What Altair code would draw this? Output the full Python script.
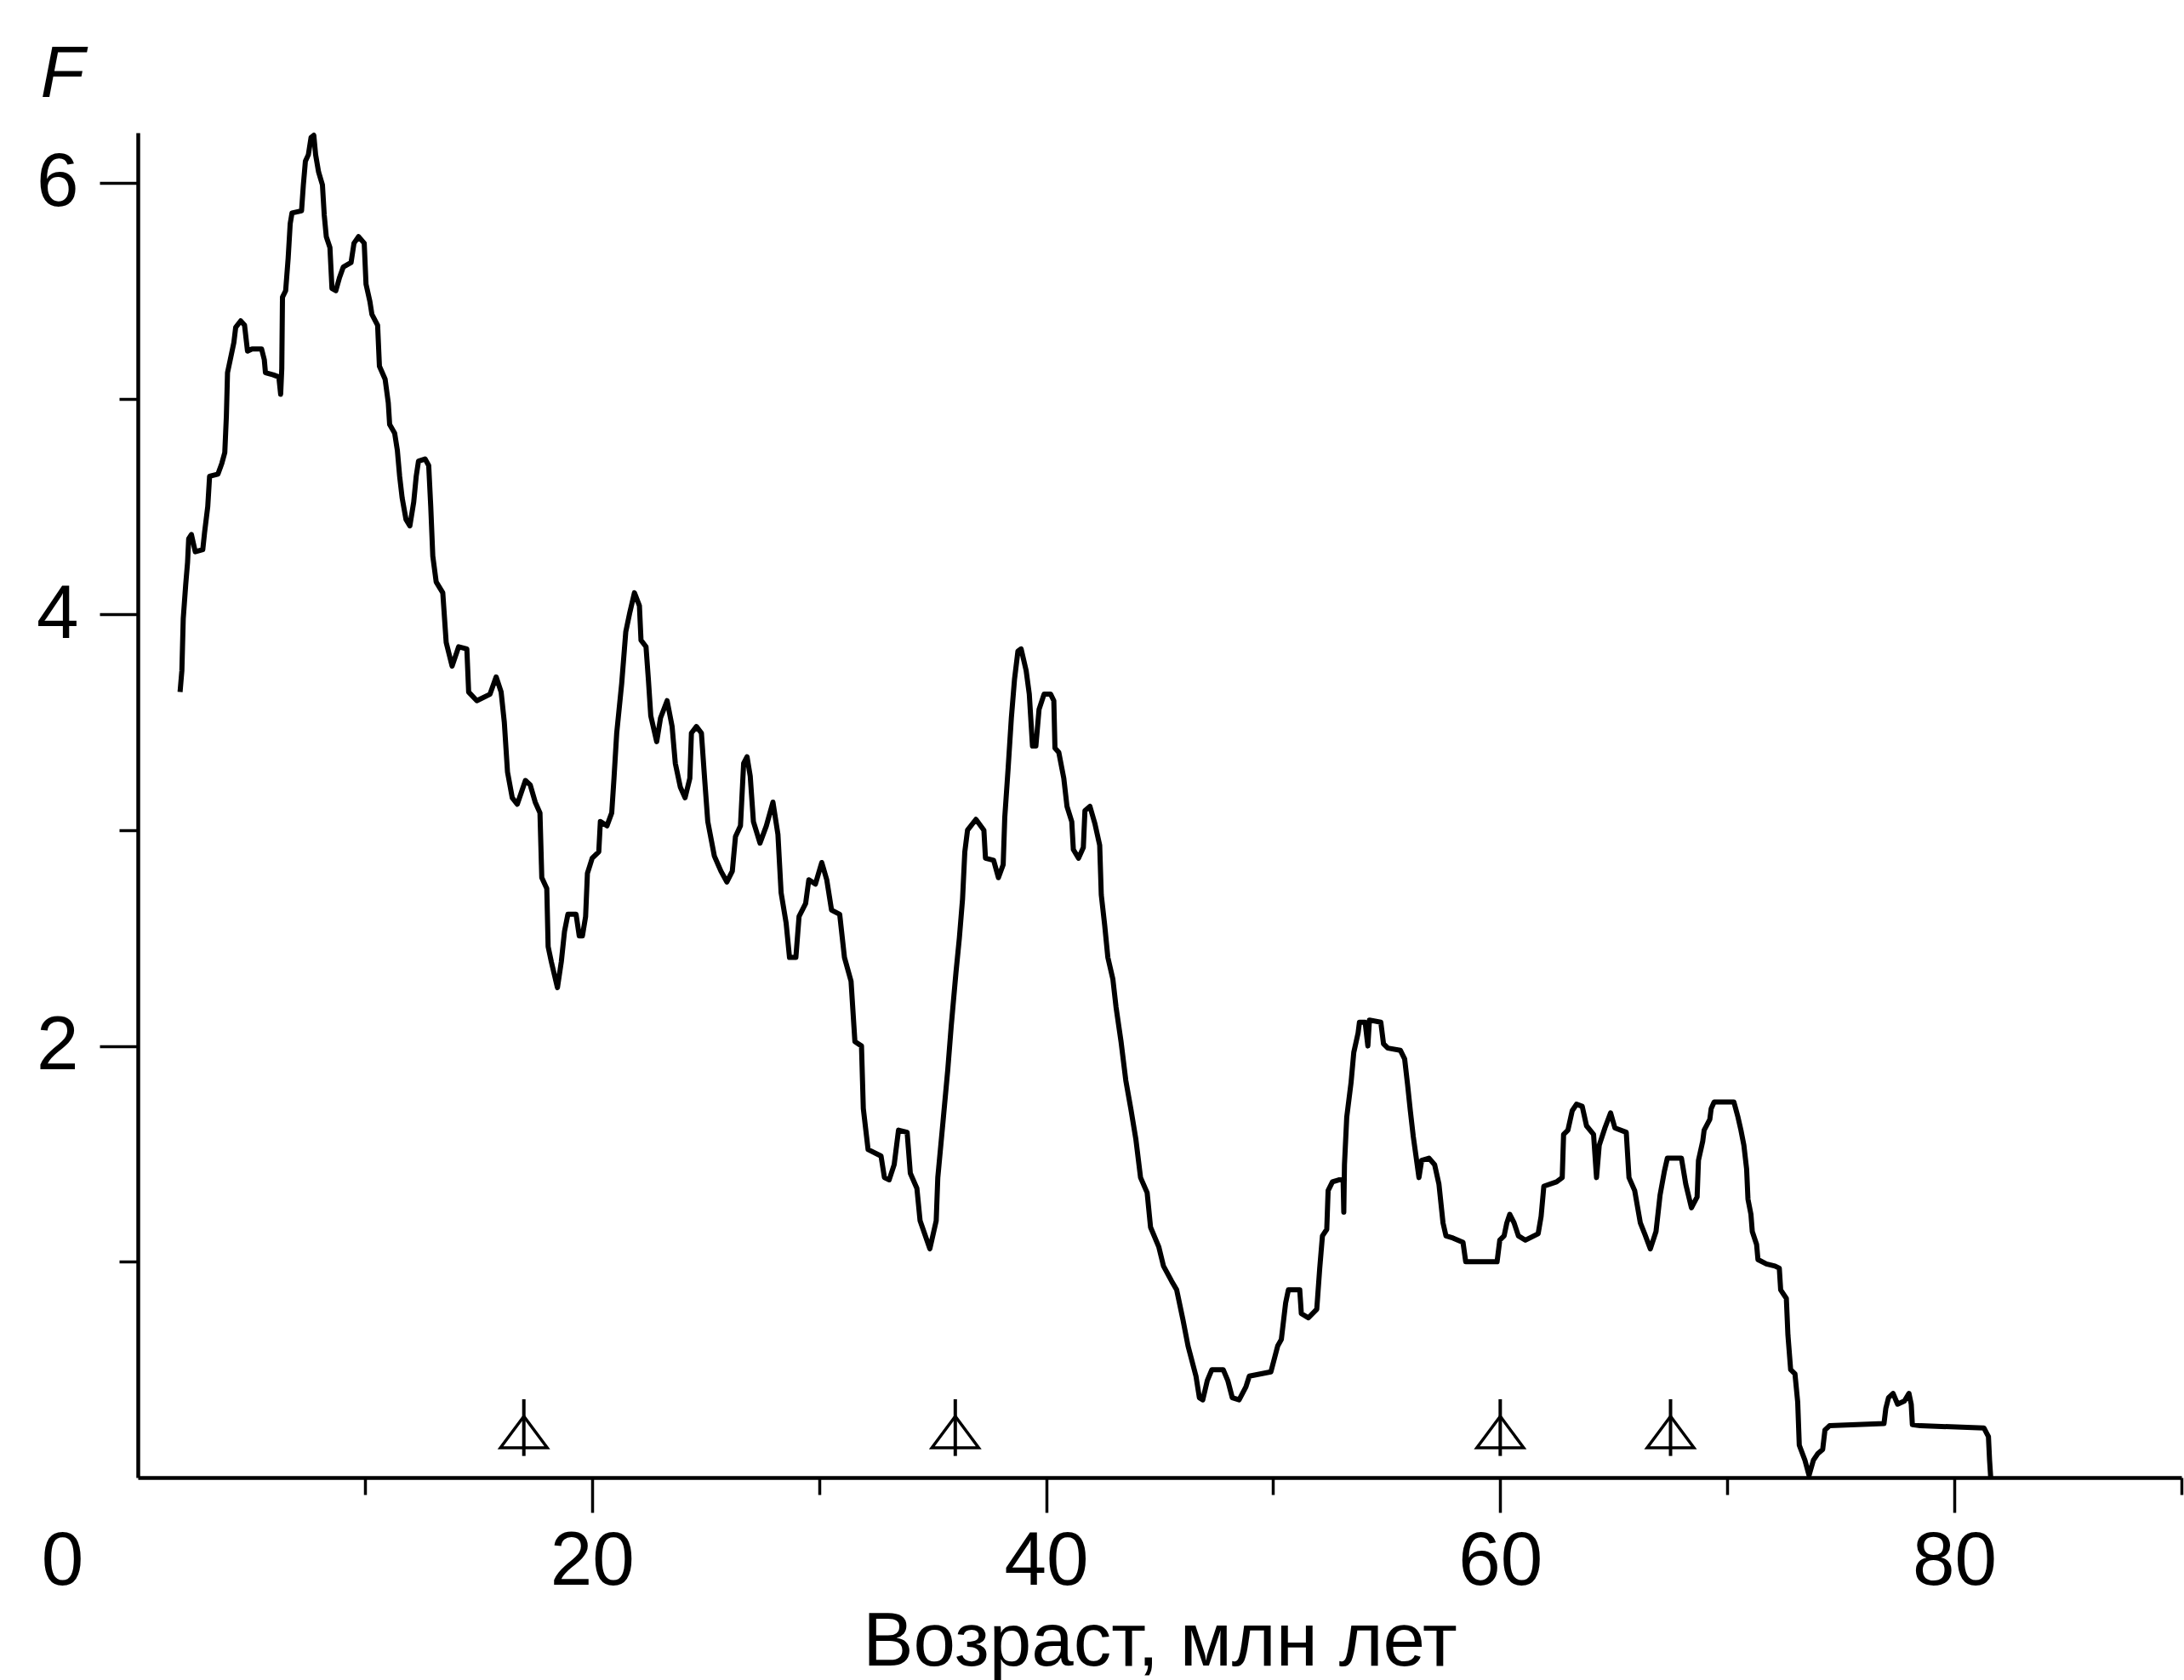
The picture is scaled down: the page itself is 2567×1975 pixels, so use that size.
import altair as alt
import pandas as pd

# Age, Ma (x) and F (y)
age = [
    1.86, 1.94, 2.00, 2.11, 2.19, 2.24, 2.36, 2.53, 2.86, 2.94, 3.08, 3.16, 3.53, 3.70, 3.83, 3.90,
    3.95, 4.11, 4.23, 4.31, 4.53, 4.70, 4.83, 5.03, 5.45, 5.57, 5.62, 5.96, 6.21, 6.29, 6.34, 6.37,
    6.51, 6.62, 6.71, 6.79, 7.21, 7.29, 7.38, 7.51, 7.63, 7.75, 7.83, 7.96, 8.13, 8.21, 8.30, 8.46,
    8.55, 8.72, 8.88, 9.05, 9.39, 9.52, 9.72, 9.97, 10.05, 10.22, 10.31, 10.56, 10.64, 10.89, 11.03,
    11.09, 11.31, 11.43, 11.53, 11.64, 11.81, 11.98, 12.15, 12.26, 12.36, 12.65, 12.81, 12.90, 12.99,
    13.14, 13.43, 13.58, 13.84, 14.13, 14.49, 14.57, 14.93, 15.51, 15.78, 16.00, 16.14, 16.28, 16.49,
    16.71, 17.07, 17.28, 17.50, 17.71, 17.79, 18.01, 18.07, 18.21, 18.48, 18.65, 18.79, 18.94, 19.30,
    19.44, 19.58, 19.72, 19.80, 20.01, 20.30, 20.37, 20.66, 20.87, 20.97, 21.09, 21.31, 21.49, 21.67,
    21.87, 22.09, 22.16, 22.38, 22.49, 22.59, 22.85, 23.02, 23.31, 23.53, 23.67, 23.89, 24.10, 24.31,
    24.38, 24.60, 24.82, 24.96, 25.10, 25.39, 25.68, 25.94, 26.18, 26.32, 26.54, 26.68, 26.83, 26.97,
    27.11, 27.40, 27.68, 27.97, 28.19, 28.33, 28.55, 28.70, 28.98, 29.12, 29.41, 29.55, 29.84, 30.12,
    30.34, 30.55, 30.91, 31.12, 31.41, 31.58, 31.87, 31.95, 32.16, 32.73, 32.88, 33.09, 33.31, 33.50,
    33.88, 34.02, 34.31, 34.45, 34.88, 35.16, 35.23, 35.46, 35.67, 35.82, 36.03, 36.18, 36.32, 36.42,
    36.54, 36.91, 37.26, 37.33, 37.69, 37.90, 38.11, 38.18, 38.33, 38.47, 38.61, 38.76, 38.90, 39.12,
    39.26, 39.40, 39.55, 39.69, 39.91, 40.20, 40.34, 40.39, 40.56, 40.78, 40.92, 41.13, 41.20, 41.43,
    41.64, 41.71, 41.93, 42.15, 42.36, 42.43, 42.58, 42.72, 42.94, 43.08, 43.30, 43.51, 43.73, 43.95,
    44.16, 44.45, 44.60, 44.96, 45.17, 45.53, 45.75, 46.03, 46.25, 46.60, 46.75, 46.90, 47.10, 47.30,
    47.80, 48.00, 48.20, 48.50, 48.80, 48.95, 49.90, 50.20, 50.36, 50.55, 50.67, 51.17, 51.24, 51.55,
    51.92, 52.05, 52.17, 52.36, 52.42, 52.61, 52.92, 53.08, 53.11, 53.14, 53.24, 53.43, 53.55, 53.74,
    53.80, 54.05, 54.17, 54.24, 54.74, 54.86, 55.05, 55.60, 55.79, 55.92, 56.04, 56.17, 56.29, 56.42,
    56.54, 56.86, 57.11, 57.30, 57.48, 57.61, 57.92, 58.36, 58.48, 58.86, 59.61, 59.86, 59.98, 60.17,
    60.29, 60.42, 60.61, 60.80, 61.11, 61.67, 61.80, 61.92, 62.48, 62.73, 62.79, 62.98, 63.17, 63.36,
    63.61, 63.80, 64.11, 64.24, 64.36, 64.61, 64.86, 65.05, 65.55, 65.67, 65.92, 66.17, 66.36, 66.61,
    66.86, 67.04, 67.23, 67.36, 67.98, 68.17, 68.42, 68.67, 68.73, 68.92, 68.98, 69.23, 69.29, 69.42,
    70.29, 70.47, 70.60, 70.73, 70.85, 70.91, 71.04, 71.10, 71.29, 71.35, 71.72, 72.10, 72.29, 72.35,
    72.60, 72.67, 72.79, 72.98, 73.10, 73.17, 73.42, 73.60, 73.79, 73.98, 74.20, 74.30, 74.50, 76.90,
    76.98, 77.10, 77.30, 77.50, 77.80, 78.00, 78.10, 78.15, 78.50, 81.30, 81.50, 81.55, 81.60,
]
F = [
    3.64, 3.74, 3.98, 4.14, 4.24, 4.35, 4.37, 4.29, 4.30, 4.38, 4.50, 4.64, 4.65, 4.70, 4.75, 4.92,
    5.12, 5.20, 5.26, 5.33, 5.36, 5.34, 5.22, 5.23, 5.23, 5.18, 5.12, 5.11, 5.10, 5.02, 5.14, 5.47,
    5.50, 5.65, 5.81, 5.86, 5.87, 5.99, 6.10, 6.13, 6.21, 6.22, 6.13, 6.05, 5.99, 5.85, 5.75, 5.70,
    5.51, 5.50, 5.56, 5.61, 5.63, 5.72, 5.75, 5.72, 5.53, 5.45, 5.39, 5.34, 5.15, 5.09, 4.98,
    4.88, 4.84, 4.76, 4.64, 4.54, 4.44, 4.41, 4.52, 4.64, 4.71, 4.72, 4.69, 4.50, 4.27,
    4.15, 4.10, 3.87, 3.76, 3.85, 3.84, 3.64, 3.60, 3.63, 3.71, 3.64, 3.50, 3.27, 3.15,
    3.12, 3.23, 3.21, 3.13, 3.08, 2.78, 2.73, 2.46, 2.39, 2.27, 2.39, 2.53, 2.61, 2.61,
    2.51, 2.51, 2.60, 2.80, 2.87, 2.90, 3.04, 3.02, 3.08, 3.24, 3.45, 3.68, 3.92, 4.01,
    4.10, 4.04, 3.88, 3.85, 3.69, 3.53, 3.41, 3.52, 3.60, 3.48, 3.31, 3.20, 3.15, 3.24,
    3.45, 3.48, 3.45, 3.24, 3.04, 2.88, 2.81, 2.76, 2.81, 2.97, 3.02, 3.31, 3.34, 3.25,
    3.04, 2.94, 3.02, 3.13, 2.98, 2.71, 2.57, 2.41, 2.41, 2.60, 2.66, 2.77, 2.75, 2.85,
    2.77, 2.63, 2.61, 2.41, 2.30, 2.02, 2.00, 1.71, 1.52, 1.49, 1.39, 1.38, 1.45, 1.61,
    1.60, 1.41, 1.34, 1.19, 1.06, 1.19, 1.39, 1.65, 1.89, 2.09, 2.34, 2.50, 2.68, 2.90,
    3.00, 3.05, 3.00, 2.87, 2.86, 2.78, 2.84, 3.06, 3.29, 3.52, 3.70, 3.83, 3.84, 3.74,
    3.63, 3.39, 3.39, 3.56, 3.63, 3.63, 3.60, 3.38, 3.36, 3.24, 3.11, 3.04, 2.91, 2.87,
    2.92, 3.09, 3.11, 3.03, 2.93, 2.70, 2.56, 2.41, 2.31, 2.18, 2.02, 1.84, 1.71, 1.57,
    1.39, 1.32, 1.16, 1.07, 0.98, 0.91, 0.87, 0.73, 0.61, 0.47, 0.37, 0.36, 0.45, 0.50,
    0.50, 0.45, 0.37, 0.36, 0.42, 0.47, 0.49, 0.61, 0.64, 0.81, 0.87, 0.87, 0.76, 0.74,
    0.78, 0.97, 1.12, 1.15, 1.33, 1.37, 1.38, 1.38, 1.23, 1.45, 1.67, 1.83, 1.97, 2.06,
    2.11, 2.11, 2.00, 2.12, 2.11, 2.01, 1.99, 1.98, 1.94, 1.82, 1.70, 1.58, 1.49, 1.39,
    1.47, 1.48, 1.45, 1.36, 1.18, 1.12, 1.11, 1.09, 1.00, 1.00, 1.00, 1.00, 1.10, 1.12,
    1.18, 1.22, 1.18, 1.12, 1.10, 1.13, 1.21, 1.35, 1.37, 1.39, 1.59, 1.61, 1.70, 1.73,
    1.72, 1.63, 1.59, 1.39, 1.54, 1.62, 1.69, 1.62, 1.60, 1.39, 1.33, 1.18, 1.13, 1.06,
    1.14, 1.31, 1.42, 1.48, 1.48, 1.36, 1.25, 1.30, 1.47, 1.56, 1.61, 1.66, 1.71, 1.74,
    1.74, 1.67, 1.61, 1.54, 1.43, 1.29, 1.22, 1.14, 1.08, 1.01, 0.99, 0.98, 0.97, 0.87,
    0.83, 0.66, 0.50, 0.48, 0.35, 0.15, 0.08, 0.01, 0.08, 0.11, 0.13, 0.22, 0.24, 0.25,
    0.32, 0.37, 0.39, 0.34, 0.355, 0.39, 0.34, 0.245, 0.24, 0.23, 0.19, 0.08, 0.00,
]

# Triangle markers (ages) and their vertical extent
marker_age = [17.0, 36.0, 60.0, 67.5]
marker_center = 0.211
marker_low = 0.10
marker_high = 0.363

x_ticks = [0, 10, 20, 30, 40, 50, 60, 70, 80, 90]
y_ticks = [1, 2, 3, 4, 5, 6]

df = pd.DataFrame({"age": age, "F": F, "i": list(range(len(age)))})
mk = pd.DataFrame({
    "age": marker_age,
    "yc": [marker_center] * len(marker_age),
    "y1": [marker_low] * len(marker_age),
    "y2": [marker_high] * len(marker_age),
})

FONT = "Liberation Sans"
xs = alt.Scale(domain=[0, 90], nice=False, zero=False)
ys = alt.Scale(domain=[0, 6.232], nice=False, zero=False)

x_axis = alt.Axis(
    values=x_ticks, format="d",
    labelExpr="datum.value % 20 === 0 ? datum.label : ''",
    tickSize={"condition": {"test": "datum.value % 20 === 0", "value": 41}, "value": 20},
    tickOpacity={"condition": {"test": "datum.value === 0", "value": 0}, "value": 1},
    labelOffset={"condition": {"test": "datum.value === 0", "value": -89}, "value": 0},
    tickWidth=3.5, tickColor="black",
    domainWidth=4.5, domainColor="black",
    labelFont=FONT, labelFontSize=89, labelColor="black",
    labelBaseline="alphabetic", labelPadding=84, labelFlush=False, labelOverlap=False,
    grid=False,
    title="Возраст, млн лет", titleFont=FONT, titleFontSize=89, titleFontWeight="normal",
    titleColor="black", titleBaseline="alphabetic", titleY=220, titleX=1201,
)
y_axis = alt.Axis(
    values=y_ticks, format="d",
    labelExpr="datum.value % 2 === 0 ? datum.label : ''",
    tickSize={"condition": {"test": "datum.value % 2 === 0", "value": 45}, "value": 22},
    tickWidth=3.5, tickColor="black",
    domainWidth=4.5, domainColor="black",
    labelFont=FONT, labelFontSize=89, labelColor="black",
    labelPadding=25, labelOverlap=False, labelFlush=False,
    grid=False,
    title="F", titleFont=FONT, titleFontSize=85, titleFontStyle="italic",
    titleFontWeight="normal", titleColor="black", titleAngle=0,
    titleAlign="left", titleBaseline="alphabetic", titleX=-115, titleY=-43,
)

curve = alt.Chart(df).mark_line(color="black", strokeWidth=6, strokeJoin="round").encode(
    x=alt.X("age:Q", scale=xs, axis=x_axis),
    y=alt.Y("F:Q", scale=ys, axis=y_axis),
    order="i:Q",
)

stems = alt.Chart(mk).mark_rule(color="black", strokeWidth=4).encode(
    x=alt.X("age:Q", scale=xs),
    y=alt.Y("y1:Q", scale=ys),
    y2="y2:Q",
)

tris = alt.Chart(mk).mark_point(
    shape="M0,-0.67L-1,0.67L1,0.67Z", size=3025, filled=False,
    color="black", strokeWidth=3.5, opacity=1,
).encode(
    x=alt.X("age:Q", scale=xs),
    y=alt.Y("yc:Q", scale=ys),
)

chart = alt.layer(curve, stems, tris).properties(
    width=2402, height=1581,
    autosize=alt.AutoSizeParams(type="none"),
    padding={"left": 162, "top": 156, "right": 3, "bottom": 238},
    background="white",
).configure_view(stroke=None)

chart.save("out.html", embed_options={"renderer": "svg", "actions": False})
